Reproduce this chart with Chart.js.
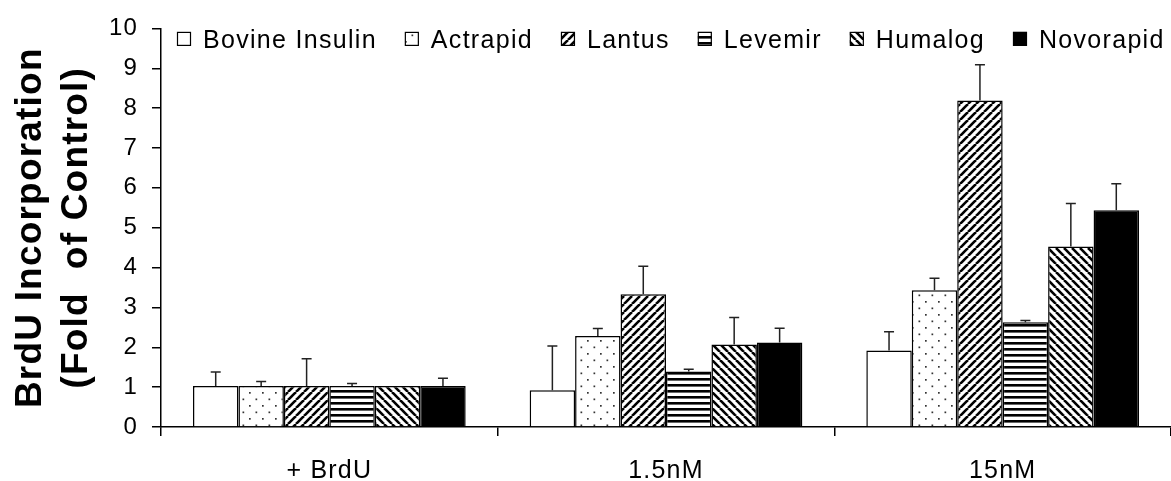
<!DOCTYPE html>
<html>
<head>
<meta charset="utf-8">
<script src="https://cdn.jsdelivr.net/npm/chart.js@4/dist/chart.umd.min.js"></script>
<style>
  html, body { margin: 0; padding: 0; background: #fff; }
  #wrap { width: 1171px; height: 481px; }
</style>
</head>
<body>
<div id="wrap"><canvas id="c" width="1171" height="481"></canvas></div>
<script>
// ---- data ----
const categories = ['+ BrdU', '1.5nM', '15nM'];
const seriesNames = ['Bovine Insulin', 'Actrapid', 'Lantus', 'Levemir', 'Humalog', 'Novorapid'];
const bovine    = [1.03, 0.92, 1.92];
const actrapid  = [1.03, 2.28, 3.43];
const lantus    = [1.03, 3.33, 8.19];
const levemir   = [1.03, 1.39, 2.63];
const humalog   = [1.03, 2.07, 4.53];
const novorapid = [1.03, 2.12, 5.44];
const bovineErr    = [0.35, 1.11, 0.47];
const actrapidErr  = [0.11, 0.19, 0.30];
const lantusErr    = [0.68, 0.70, 0.90];
const levemirErr   = [0.06, 0.06, 0.04];
const humalogErr   = [0.00, 0.68, 1.08];
const novorapidErr = [0.19, 0.36, 0.66];
const yTicks = [0, 1, 2, 3, 4, 5, 6, 7, 8, 9, 10];

// ---- fill patterns ----
function makeTile(w, h, draw) {
  const c = document.createElement('canvas');
  c.width = w; c.height = h;
  const g = c.getContext('2d');
  g.fillStyle = '#fff'; g.fillRect(0, 0, w, h);
  draw(g, w, h);
  return document.getElementById('c').getContext('2d').createPattern(c, 'repeat');
}
const pWhite = '#ffffff';
const pDots = makeTile(13, 13, (g) => {
  g.fillStyle = '#333';
  g.fillRect(2, 2, 1.7, 1.7);
  g.fillRect(8.5, 8.5, 1.7, 1.7);
});
const pFwd = makeTile(8, 8, (g, w, h) => {
  g.strokeStyle = '#000'; g.lineWidth = 2.6;
  for (let k = -1; k <= 1; k++) {
    g.beginPath(); g.moveTo(k * w, h); g.lineTo(k * w + w, 0); g.stroke();
  }
});
const pHoriz = makeTile(6, 6, (g) => {
  g.fillStyle = '#000'; g.fillRect(0, 0, 6, 2.6);
});
const pBack = makeTile(8, 8, (g, w, h) => {
  g.strokeStyle = '#000'; g.lineWidth = 2.6;
  for (let k = -1; k <= 1; k++) {
    g.beginPath(); g.moveTo(k * w, 0); g.lineTo(k * w + w, h); g.stroke();
  }
});
const pBlack = '#000000';

const values = [bovine, actrapid, lantus, levemir, humalog, novorapid];
const errors = [bovineErr, actrapidErr, lantusErr, levemirErr, humalogErr, novorapidErr];
const fills = [pWhite, pDots, pFwd, pHoriz, pBack, pBlack];

const FONT = "'Liberation Sans', Arial, sans-serif";

// ---- plugins ----
const spacingPlugin = {
  id: 'spacing',
  beforeDraw(chart) { chart.ctx.letterSpacing = '1.2px'; }
};

const errorBars = {
  id: 'errorBars',
  afterDatasetsDraw(chart) {
    const ctx = chart.ctx;
    const y = chart.scales.y;
    ctx.save();
    ctx.strokeStyle = '#222';
    ctx.lineWidth = 1.5;
    chart.data.datasets.forEach((ds, di) => {
      const meta = chart.getDatasetMeta(di);
      meta.data.forEach((bar, i) => {
        const e = ds.errors[i];
        if (!e) return;
        const top = y.getPixelForValue(ds.data[i] + e);
        const base = y.getPixelForValue(ds.data[i]);
        ctx.beginPath();
        ctx.moveTo(bar.x, base);
        ctx.lineTo(bar.x, top);
        ctx.moveTo(bar.x - 5, top);
        ctx.lineTo(bar.x + 5, top);
        ctx.stroke();
      });
    });
    ctx.restore();
  }
};

const customLegend = {
  id: 'customLegend',
  afterDraw(chart) {
    const ctx = chart.ctx;
    const area = chart.chartArea;
    ctx.save();
    ctx.font = "25px " + FONT;
    ctx.letterSpacing = '1.3px';
    ctx.textBaseline = 'alphabetic';
    ctx.textAlign = 'left';
    let x = area.left + 16;
    const boxTop = area.top + 3.5;
    const box = 14;
    chart.data.datasets.forEach((ds) => {
      ctx.fillStyle = ds.backgroundColor;
      ctx.fillRect(x, boxTop, box, box);
      ctx.strokeStyle = '#000';
      ctx.lineWidth = 1.2;
      ctx.strokeRect(x + 0.5, boxTop + 0.5, box - 1, box - 1);
      x += box + 12;
      ctx.fillStyle = '#000';
      ctx.fillText(ds.label, x, area.top + 20);
      x += ctx.measureText(ds.label).width + 28;
    });
    ctx.restore();
  }
};

new Chart(document.getElementById('c'), {
  type: 'bar',
  data: {
    labels: categories,
    datasets: seriesNames.map((name, i) => ({
      label: name,
      data: values[i],
      errors: errors[i],
      backgroundColor: fills[i],
      borderColor: '#000',
      borderWidth: 1.5,
      borderSkipped: 'bottom'
    }))
  },
  options: {
    responsive: false,
    animation: false,
    devicePixelRatio: 1,
    layout: { padding: { top: 12, right: 0, left: 8, bottom: 0 } },
    datasets: { bar: { categoryPercentage: 0.81, barPercentage: 1.0 } },
    plugins: { legend: { display: false }, tooltip: { enabled: false } },
    scales: {
      x: {
        offset: true,
        grid: { offset: true, drawOnChartArea: false, drawTicks: true, tickLength: 9, color: '#000', lineWidth: 1.5 },
        border: { display: true, color: '#000', width: 1.5 },
        ticks: { color: '#000', padding: 20, font: { family: FONT, size: 25 } },
        afterFit(s) { s.height = 54; }
      },
      y: {
        min: 0, max: 10,
        afterBuildTicks(s) { s.ticks = yTicks.map(v => ({ value: v })); },
        grid: { drawOnChartArea: false, drawTicks: true, tickLength: 9, color: '#000', lineWidth: 1.5 },
        border: { display: true, color: '#000', width: 1.5 },
        ticks: { color: '#000', padding: 14, font: { family: FONT, size: 24 } },
        title: {
          display: true,
          text: ['BrdU Incorporation', '(Fold  of Control)'],
          color: '#000',
          font: { family: FONT, size: 37, weight: 'bold', lineHeight: 1.24 },
          padding: { top: 0, bottom: 8 }
        },
        afterFit(s) { s.width = 153; }
      }
    }
  },
  plugins: [spacingPlugin, errorBars, customLegend]
});
</script>
</body>
</html>
